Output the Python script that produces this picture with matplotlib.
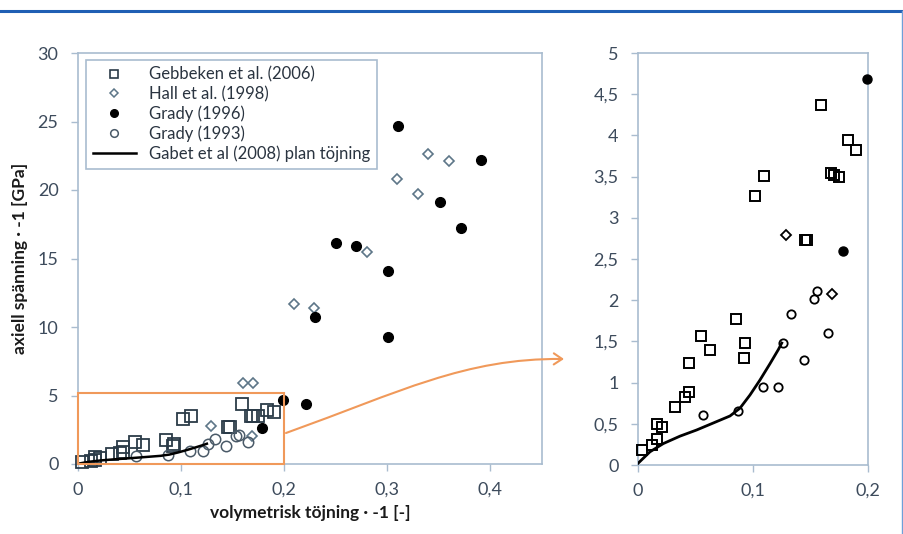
import numpy as np
import matplotlib
matplotlib.use("Agg")
import matplotlib.pyplot as plt
from matplotlib.ticker import FuncFormatter, MultipleLocator
from matplotlib.patches import Rectangle, FancyArrowPatch
from matplotlib.path import Path
from matplotlib.lines import Line2D

plt.rcParams['font.family'] = ['Lato', 'DejaVu Sans']

# data
gebbeken_x = [0.0035, 0.0122, 0.0168, 0.0165, 0.021, 0.0325, 0.0406, 0.044, 0.044, 0.055, 0.063, 0.0855,
              0.092, 0.093, 0.102, 0.1096, 0.1455, 0.147, 0.159, 0.168, 0.170, 0.1745, 0.183, 0.190]
gebbeken_y = [0.18, 0.24, 0.31, 0.50, 0.46, 0.70, 0.83, 0.89, 1.24, 1.57, 1.40, 1.77,
              1.30, 1.48, 3.26, 3.51, 2.73, 2.73, 4.37, 3.54, 3.52, 3.49, 3.95, 3.82]

hall_x = [0.1287, 0.169, 0.160, 0.170, 0.209, 0.229, 0.280, 0.309, 0.330, 0.3395, 0.360]
hall_y = [2.79, 2.08, 5.9, 5.9, 11.7, 11.4, 15.5, 20.8, 19.7, 22.6, 22.1]

grady96_x = [0.1785, 0.199, 0.221, 0.230, 0.250, 0.270, 0.301, 0.301, 0.310, 0.351, 0.371, 0.391]
grady96_y = [2.60, 4.69, 4.36, 10.75, 16.1, 15.9, 14.1, 9.3, 24.7, 19.1, 17.2, 22.2]

grady93_x = [0.0565, 0.087, 0.109, 0.1215, 0.126, 0.133, 0.144, 0.153, 0.156, 0.165]
grady93_y = [0.61, 0.66, 0.95, 0.95, 1.48, 1.83, 1.28, 2.01, 2.115, 1.60]

gabet_x = [0.0, 0.0104, 0.022, 0.0365, 0.051, 0.0655, 0.080, 0.0887, 0.0974, 0.106, 0.1148, 0.122, 0.125]
gabet_y = [0.02, 0.16, 0.26, 0.35, 0.425, 0.51, 0.595, 0.69, 0.85, 1.03, 1.23, 1.40, 1.48]

labels = ["Gebbeken et al. (2006)", "Hall et al. (1998)", "Grady (1996)", "Grady (1993)",
          "Gabet et al (2008) plan töjning"]

xlabel = "volymetrisk töjning · -1 [-]"
ylabel = "axiell spänning · -1 [GPa]"

spine_col = '#a9bccf'
tick_col = '#3d4b5c'
orange = '#f0995a'

W, H = 904, 534
fig = plt.figure(figsize=(W / 100, H / 100), dpi=100)


def comma(v, pos):
    s = ('%g' % round(v, 3))
    return s.replace('.', ',')


def style_axes(ax):
    for sp in ax.spines.values():
        sp.set_color(spine_col)
        sp.set_linewidth(1.2)
    ax.tick_params(direction='out', length=5, width=1, color=spine_col,
                   labelcolor=tick_col, labelsize=13)
    ax.tick_params(axis='x', pad=8)
    ax.tick_params(axis='y', pad=9)
    ax.xaxis.set_major_formatter(FuncFormatter(comma))
    ax.yaxis.set_major_formatter(FuncFormatter(comma))


def within(xs, ys, xmax, ymax):
    xs = np.array(xs)
    ys = np.array(ys)
    m = (xs <= xmax) & (ys <= ymax)
    return xs[m], ys[m]


# left panel
ax1 = fig.add_axes([78 / W, 1 - 464 / H, 464 / W, 411 / H])
style_axes(ax1)
ax1.set_xlim(0, 0.45)
ax1.set_ylim(0, 30)
ax1.xaxis.set_major_locator(MultipleLocator(0.1))
ax1.yaxis.set_major_locator(MultipleLocator(5))

ax1.plot(gebbeken_x, gebbeken_y, 's', ms=8, mfc='none', mec='#2b3b48', mew=1.3, clip_on=False, zorder=3)
ax1.plot(hall_x, hall_y, 'D', ms=5.5, mfc='none', mec='#5d7688', mew=1.2, clip_on=False, zorder=3)
ax1.plot(grady96_x, grady96_y, 'o', ms=7, mfc='black', mec='black', clip_on=False, zorder=3)
ax1.plot(grady93_x, grady93_y, 'o', ms=7.5, mfc='none', mec='#4a5a68', mew=1.1, clip_on=False, zorder=3)
ax1.plot(gabet_x, gabet_y, '-', color='black', lw=1.8, zorder=4)

ax1.add_patch(Rectangle((0, 0), 0.2, 5.15, fill=False, edgecolor=orange, lw=1.5, clip_on=False, zorder=5))

ax1.set_xlabel(xlabel, fontsize=12.5, fontweight='bold', color='#1a1a1a', labelpad=5)
ax1.set_ylabel(ylabel, fontsize=12.5, fontweight='bold', color='#1a1a1a', labelpad=7)

handles = [
    Line2D([], [], ls='none', marker='s', ms=6, mfc='none', mec='#2b3b48', mew=1.2),
    Line2D([], [], ls='none', marker='D', ms=4.5, mfc='none', mec='#5d7688', mew=1.1),
    Line2D([], [], ls='none', marker='o', ms=5.5, mfc='black', mec='black'),
    Line2D([], [], ls='none', marker='o', ms=5.5, mfc='none', mec='#4a5a68', mew=1.1),
    Line2D([], [], color='black', lw=1.8),
]
leg = ax1.legend(handles, labels, loc='upper left', bbox_to_anchor=(8 / 464, 1 - 7 / 411),
                 borderaxespad=0, fancybox=False, framealpha=1, edgecolor=spine_col,
                 fontsize=12, handlelength=2.6, handletextpad=0.8, labelspacing=0.2,
                 borderpad=0.4)
leg.get_frame().set_linewidth(1.2)
for t in leg.get_texts():
    t.set_color('#2a3440')

# right panel (zoom of the orange box)
ax2 = fig.add_axes([638 / W, 1 - 465 / H, 230 / W, 412 / H])
style_axes(ax2)
ax2.set_xlim(0, 0.2)
ax2.set_ylim(0, 5)
ax2.xaxis.set_major_locator(MultipleLocator(0.1))
ax2.yaxis.set_major_locator(MultipleLocator(0.5))

gx, gy = within(gebbeken_x, gebbeken_y, 0.2, 5)
ax2.plot(gx, gy, 's', ms=6.5, mfc='none', mec='black', mew=1.4, clip_on=False, zorder=3)
hx, hy = within(hall_x, hall_y, 0.2, 5)
ax2.plot(hx, hy, 'D', ms=4.8, mfc='none', mec='black', mew=1.3, clip_on=False, zorder=3)
fx, fy = within(grady96_x, grady96_y, 0.2, 5)
ax2.plot(fx, fy, 'o', ms=6.5, mfc='black', mec='black', clip_on=False, zorder=3)
cx, cy = within(grady93_x, grady93_y, 0.2, 5)
ax2.plot(cx, cy, 'o', ms=6, mfc='none', mec='black', mew=1.3, clip_on=False, zorder=3)
ax2.plot(gabet_x, gabet_y, '-', color='black', lw=2, zorder=4)

# curved arrow from box to the zoomed panel
pts = [(286, 433), (400, 392), (465, 358), (564, 359)]
verts = [(px / W, 1 - py / H) for px, py in pts]
path = Path(verts, [Path.MOVETO, Path.CURVE4, Path.CURVE4, Path.CURVE4])
arrow = FancyArrowPatch(path=path, arrowstyle='->,head_length=6,head_width=4', color=orange,
                        lw=1.5, transform=fig.transFigure)
fig.patches.append(arrow)

# frame lines of the original picture
fig.add_artist(Line2D([0, 902 / W], [1 - 11 / H, 1 - 11 / H], color='#1f5fb4', lw=2.2, transform=fig.transFigure))
fig.add_artist(Line2D([902 / W, 902 / W], [1 - 11 / H, 0], color='#6f9fd8', lw=1, transform=fig.transFigure))

fig.savefig('out.png', dpi=100)
